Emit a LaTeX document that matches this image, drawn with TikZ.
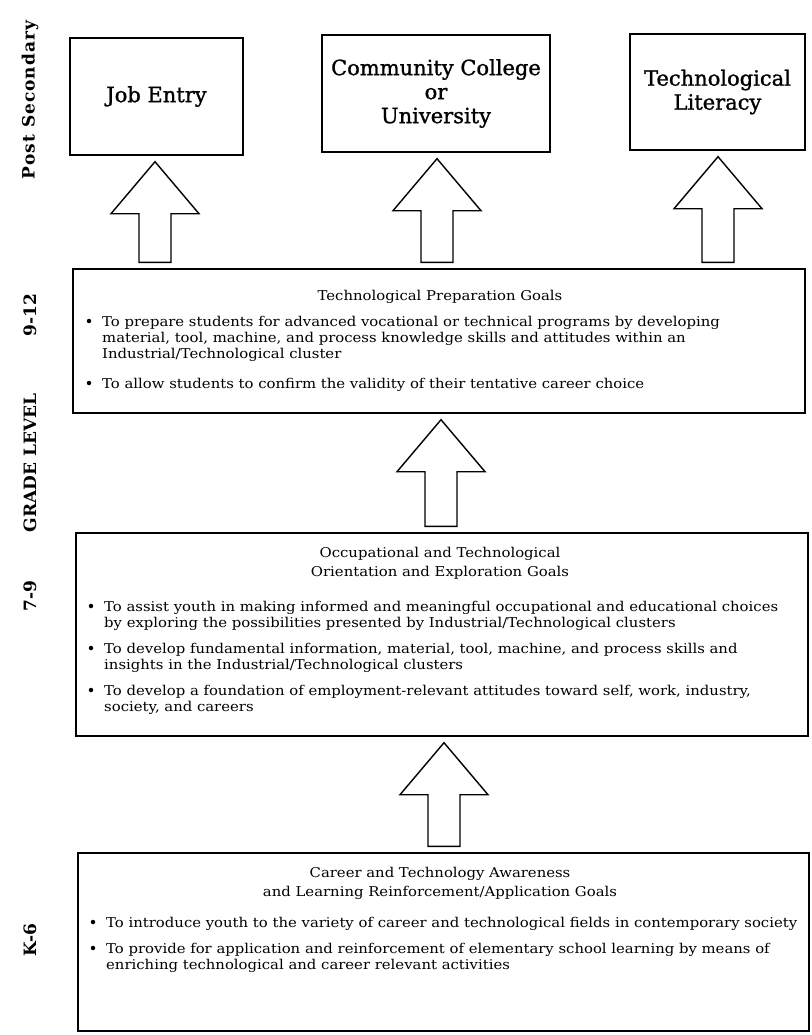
\documentclass[tikz,border=0pt]{standalone}
\usepackage{fontspec}
\setmainfont{DejaVu Serif}
\newfontfamily\bodyf[FakeStretch=1.10]{DejaVu Serif}
\newfontfamily\headf[FakeBold=1.2]{DejaVu Serif}
\usetikzlibrary{calc}
\newcommand{\leftlines}[1]{\begin{tabular}[t]{@{}l@{}}#1\end{tabular}}
\newcommand{\midlines}[1]{\begin{tabular}[t]{@{}c@{}}#1\end{tabular}}
\tikzset{
  box/.style={draw, line width=1.4pt, inner sep=0pt},
  bodytext/.style={font=\bodyf\fontsize{13.5}{16}\selectfont, inner sep=0pt, anchor=base west},
  titletext/.style={font=\bodyf\fontsize{13.5}{19}\selectfont, inner sep=0pt, anchor=base},
  toptext/.style={font=\headf\fontsize{21}{24}\selectfont, align=center},
  side/.style={font=\bfseries\fontsize{17}{19}\selectfont, rotate=90, inner sep=0pt},
  dot/.style={circle, fill=black, inner sep=0pt, minimum size=4.5pt},
  arrowline/.style={draw, line width=1.4pt, line join=miter, fill=white}
}
\newcommand{\boxnode}[5]{%
  \node[box, minimum width={#4-#2}, minimum height={#5-#3}] (#1) at ({(#2+#4)/2},{(#3+#5)/2}) {};}
\newcommand{\blockarrow}[3]{%
  \draw[arrowline] let \p1=(#2.north), \p2=(#3.south) in
    ({#1pt-16pt},{\y1+6pt}) -- ({#1pt-16pt},{\y2-58pt}) -- ({#1pt-44pt},{\y2-58pt})
    -- ({#1pt},{\y2-6pt}) -- ({#1pt+44pt},{\y2-58pt}) -- ({#1pt+16pt},{\y2-58pt})
    -- ({#1pt+16pt},{\y1+6pt}) -- cycle;}
\begin{document}
\begin{tikzpicture}[x=1pt, y=-1pt]
\useasboundingbox (0,0) rectangle (811,1035);
\fill[white] (0,0) rectangle (811,1035);

% side labels
\node[side] (ps) at (30,100) {\addfontfeature{LetterSpace=6}Post Secondary};
\node[side] (g912) at (30,315) {9-12};
\node[side] (gl) at (30,463) {GRADE LEVEL};
\node[side] (g79) at (30,596) {7-9};
\node[side] (gk6) at (30,940) {K-6};

% top boxes
\node[box, minimum width=173pt, minimum height=117pt, toptext] (je) at (156.5,96.5) {Job Entry};
\node[box, minimum width=228pt, minimum height=117pt, toptext] (cc) at (436,93.5) {Community College\\or\\University};
\node[box, minimum width=175pt, minimum height=116pt, toptext] (tl) at (717.5,92) {Technological\\Literacy};

% goal boxes
\boxnode{tp}{73}{269}{805}{413}
\boxnode{oc}{76}{533}{808}{736}
\boxnode{k6}{78}{853}{809}{1031}

% arrows
\blockarrow{155}{tp}{je}
\blockarrow{437}{tp}{cc}
\blockarrow{718}{tp}{tl}
\blockarrow{441}{oc}{tp}
\blockarrow{444}{k6}{oc}

% Technological preparation
\node[titletext] (tpt) at (440,300) {\midlines{Technological Preparation Goals}};
\node[dot] (tpd1) at (89,321) {};
\node[bodytext] (tpb1) at (102,326) {\leftlines{To prepare students for advanced vocational or technical programs by developing\\material, tool, machine, and process knowledge skills and attitudes within an\\Industrial/Technological cluster}};
\node[dot] (tpd2) at (89,383) {};
\node[bodytext] (tpb2) at (102,388) {\leftlines{To allow students to confirm the validity of their tentative career choice}};

% Occupational
\node[titletext] (oct) at (440,557) {\midlines{Occupational and Technological\\Orientation and Exploration Goals}};
\node[dot] (ocd1) at (91,606) {};
\node[bodytext] (ocb1) at (104,611) {\leftlines{To assist youth in making informed and meaningful occupational and educational choices\\by exploring the possibilities presented by Industrial/Technological clusters}};
\node[dot] (ocd2) at (91,648) {};
\node[bodytext] (ocb2) at (104,653) {\leftlines{To develop fundamental information, material, tool, machine, and process skills and\\insights in the Industrial/Technological clusters}};
\node[dot] (ocd3) at (91,690) {};
\node[bodytext] (ocb3) at (104,695) {\leftlines{To develop a foundation of employment-relevant attitudes toward self, work, industry,\\society, and careers}};

% K-6
\node[titletext] (k6t) at (440,877) {\midlines{Career and Technology Awareness\\and Learning Reinforcement/Application Goals}};
\node[dot] (k6d1) at (93,922) {};
\node[bodytext] (k6b1) at (106,927) {\leftlines{To introduce youth to the variety of career and technological fields in contemporary society}};
\node[dot] (k6d2) at (93,948) {};
\node[bodytext] (k6b2) at (106,953) {\leftlines{To provide for application and reinforcement of elementary school learning by means of\\enriching technological and career relevant activities}};
\end{tikzpicture}
\end{document}
